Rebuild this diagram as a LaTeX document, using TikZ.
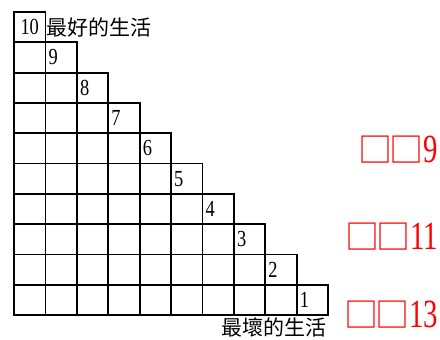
\documentclass[tikz,border=0pt]{standalone}
\usepackage{fontspec}
\setmainfont{Liberation Serif}
\newfontfamily\cjk{Noto Sans CJK TC}
\newfontfamily\numfont[FakeStretch=0.8]{Liberation Serif}
\newfontfamily\bignumfont[FakeStretch=0.72]{Liberation Serif}
\usetikzlibrary{positioning}
\tikzstyle{cell} = [draw, line width=1.8pt]
\tikzstyle{num} = [inner sep=0pt, anchor=west, font=\numfont\fontsize{23}{23}\selectfont]
\tikzstyle{lbl} = [inner sep=0pt, font=\cjk\fontsize{21}{21}\selectfont]
\tikzstyle{score} = [inner sep=0pt, anchor=east, text=red, font=\bignumfont\fontsize{40}{40}\selectfont]
\newcommand{\tofu}{{\cjk\fontsize{34}{34}\selectfont □\kern-3pt□}}

\begin{document}
\begin{tikzpicture}[x=1pt, y=-1pt]
    \useasboundingbox (0,0) rectangle (440,340);

    % staircase of cells, row r has r cells
    \foreach \r in {1,...,10} {
      \foreach \c in {1,...,\r} {
        \draw [cell] ({14+(\c-1)*31.4},{12+(\r-1)*30.3}) rectangle ({14+\c*31.4},{12+\r*30.3});
      }
    }

    % numbers in the last cell of each row
    \node [num, anchor=center] (num10) at (29.7,27) {10};
    \foreach \r in {2,...,10} {
      \pgfmathtruncatemacro{\n}{11-\r}
      \node [num] (num\n) at ({14+(\r-1)*31.4+3},{12+(\r-0.5)*30.3}) {\n};
    }

    \node [lbl, right=7pt of num10] (best) {最好的生活};
    \node [lbl, anchor=east] (worst) at (327,327) {最壞的生活};

    \node [score] (score9) at (438,150) {\tofu 9};
    \node [score] (score11) at (438,237) {\tofu 11};
    \node [score] (score13) at (438,315) {\tofu 13};
\end{tikzpicture}
\end{document}
